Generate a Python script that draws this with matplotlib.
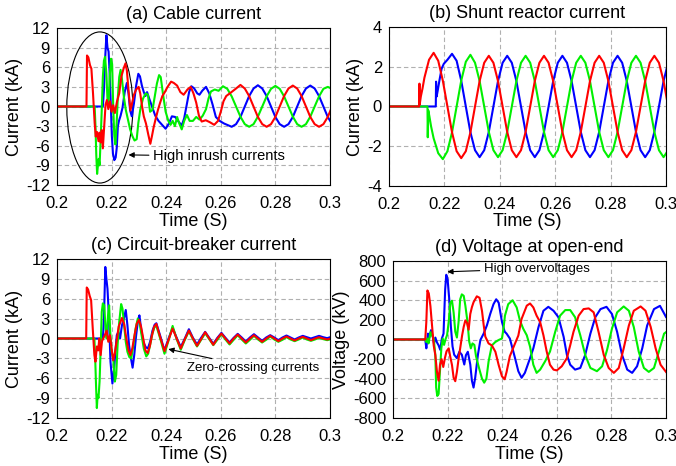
import numpy as np
import matplotlib.pyplot as plt
from matplotlib.patches import Ellipse

plt.rcParams['font.family'] = ['Liberation Sans', 'DejaVu Sans']
plt.rcParams['axes.unicode_minus'] = False

RED, GREEN, BLUE = '#ff0000', '#00f000', '#0000ff'

# ---------------- (a) cable current, kA ----------------
A_RED_PTS = [(0.200, 0), (0.2108, 0), (0.2110, 7.8), (0.2115, 7.5), (0.2121, 6.3), (0.2126, 5.8),
             (0.2132, 2.0), (0.2138, -2.5), (0.2142, -4.6), (0.2147, -3.9), (0.2152, -5.3), (0.2156, -4.0),
             (0.2160, -5.5), (0.2164, -3.6), (0.2168, -6.4), (0.2173, -3.0), (0.2178, 0.3), (0.2183, 1.0),
             (0.2188, -0.4), (0.2194, 0.8), (0.2200, -0.8), (0.2206, 0.2), (0.2212, -1.0), (0.2220, 0.8),
             (0.2228, 2.0), (0.2236, 4.6), (0.2244, 5.8), (0.2251, 6.6), (0.2256, 5.5), (0.2262, 2.5),
             (0.2269, -0.6), (0.2275, 0.5), (0.2282, 1.8), (0.2290, 2.6), (0.2299, 3.0), (0.2305, 2.0),
             (0.2311, 0.2), (0.2318, -1.5), (0.2326, -2.6), (0.2334, -4.2), (0.2342, -5.7), (0.2348, -4.5),
             (0.2354, -3.2), (0.2362, -1.8), (0.2370, -0.5), (0.2378, 0.6), (0.2386, 1.6), (0.2395, 2.2),
             (0.2405, 3.0), (0.2418, 3.8), (0.2428, 3.6), (0.2440, 3.2), (0.2452, 2.2), (0.2464, 1.8),
             (0.2478, 2.6), (0.2490, 3.0), (0.2500, 2.0), (0.2510, 0.6), (0.2520, -1.4), (0.2530, -2.3),
             (0.2545, -2.1), (0.2560, -2.4), (0.2576, -2.8), (0.2590, -2.2), (0.2600, -0.8), (0.2610, 0.8),
             (0.2620, 1.6), (0.2636, 2.1)]
A_RED_T0 = 0.2656
A_RED_VALS = [2.75, 3.3, 2.75, 1.6, 0, -1.6, -2.7, -3.1, -2.7, -1.6, 0, 1.6, 2.75, 3.2, 2.75, 1.6, 0,
              -1.6, -2.7, -3.1, -2.7, -1.6, 0]

A_BLUE_PTS = [(0.200, 0), (0.2168, 0), (0.2172, 2.5), (0.2176, 7.0), (0.2181, 10.9), (0.2185, 9.0),
              (0.2189, 8.4), (0.2193, 5.0), (0.2197, 0.5), (0.2201, -4.5), (0.2205, -7.2), (0.2210, -8.2),
              (0.2215, -7.8), (0.2219, -6.3), (0.2223, -3.0), (0.2227, -2.2), (0.2233, -1.4), (0.2240, -0.2),
              (0.2248, 2.2), (0.2256, 3.6), (0.2262, 2.0), (0.2268, -0.6), (0.2274, -1.5), (0.2282, 0.5),
              (0.2290, 3.2), (0.2298, 5.0), (0.2304, 4.6), (0.2311, 3.2), (0.2318, 2.2), (0.2324, 1.6),
              (0.2330, 2.2), (0.2338, 1.2), (0.2348, 0.0), (0.2360, -1.4), (0.2372, -2.2), (0.2385, -2.8),
              (0.2398, -3.4), (0.2410, -2.6), (0.2421, -1.5), (0.2433, -1.6), (0.2445, -2.3), (0.2457, -2.9),
              (0.2466, -1.8), (0.2475, 0.2), (0.2484, 2.2), (0.2492, 3.1), (0.2502, 2.8), (0.2514, 2.0),
              (0.2522, 1.8), (0.2532, 2.4), (0.2546, 3.0), (0.2558, 2.0), (0.2570, 0.3), (0.2582, -1.6),
              (0.2596, -2.2), (0.2612, -2.6)]
A_BLUE_T0 = 0.2640
A_BLUE_VALS = [-3.1, -2.7, -1.6, 0, 1.6, 2.75, 3.25, 2.75, 1.6, 0, -1.6, -2.7, -3.1, -2.7, -1.6, 0,
               1.6, 2.75, 3.2, 2.75, 1.6, 0, -1.6, -2.7]

A_GREEN_PTS = [(0.200, 0), (0.2138, 0), (0.2141, -3.0), (0.2144, -7.5), (0.2147, -10.3), (0.2150, -9.0),
               (0.2153, -8.0), (0.2156, -9.0), (0.2160, -5.0), (0.2164, -0.5), (0.2168, 4.5), (0.2172, 7.0),
               (0.2176, 7.6), (0.2181, 5.0), (0.2185, 1.0), (0.2189, 0.5), (0.2193, 4.5), (0.2198, 7.3),
               (0.2202, 6.5), (0.2206, 0.0), (0.2210, -4.5), (0.2214, -5.8), (0.2218, -3.0), (0.2223, 1.5),
               (0.2228, 4.5), (0.2233, 5.6), (0.2238, 4.2), (0.2245, 1.5), (0.2252, -0.5), (0.2260, -2.0),
               (0.2268, -3.5), (0.2276, -4.5), (0.2284, -5.2), (0.2292, -5.0), (0.2298, -2.5), (0.2305, -0.5),
               (0.2315, 1.2), (0.2325, 2.0), (0.2333, 1.8), (0.2341, -0.8), (0.2350, -0.5), (0.2358, 1.5),
               (0.2366, 3.5), (0.2374, 4.8), (0.2380, 4.5), (0.2388, 2.0), (0.2398, -0.8), (0.2408, -2.2),
               (0.2416, -2.8), (0.2424, -2.2), (0.2432, -3.0), (0.2440, -1.6), (0.2448, -2.6), (0.2457, -3.5),
               (0.2466, -2.2), (0.2476, -1.3), (0.2486, -2.2), (0.2498, -2.2), (0.2510, -1.6), (0.2522, -2.0),
               (0.2534, -1.4), (0.2546, -0.4), (0.2555, 1.2), (0.2564, 2.3), (0.2578, 2.6), (0.2592, 2.4)]
A_GREEN_T0 = 0.2608
A_GREEN_VALS = [3.1, 2.7, 1.55, 0, -1.55, -2.7, -3.1, -2.7, -1.55, 0, 1.55, 2.7, 3.15, 2.7, 1.55, 0,
                -1.55, -2.7, -3.1, -2.7, -1.55, 0, 1.55, 2.7, 3.0, 2.7]
A_DT = 0.0016

# ---------------- (b) shunt reactor current, kA ----------------
B_DT = 0.00166
B_RED_PTS = [(0.200, 0), (0.2109, 0), (0.2110, 1.15), (0.2111, 0.1), (0.2115, 0.5), (0.2121, 0.9)]
B_RED_T0 = 0.2128
B_RED_VALS = [1.45, 2.35, 2.7, 2.3, 1.3, 0, -1.3, -2.25, -2.6, -2.25, -1.3, 0,
              1.28, 2.2, 2.55, 2.2, 1.28, 0, -1.28, -2.2, -2.55, -2.2, -1.28, 0,
              1.28, 2.2, 2.55, 2.2, 1.28, 0, -1.28, -2.2, -2.55, -2.2, -1.28, 0,
              1.28, 2.2, 2.55, 2.2, 1.28, 0, -1.28, -2.2, -2.55, -2.2, -1.28, 0,
              1.28, 2.2, 2.55, 2.2, 1.28, 0]

B_BLUE_PTS = [(0.200, 0), (0.2169, 0), (0.2170, 1.25), (0.2172, 0.5), (0.2176, 0.8), (0.2182, 1.3),
              (0.2190, 1.9), (0.2198, 2.15)]
B_BLUE_T0 = 0.2211
B_BLUE_VALS = [2.35, 2.65, 2.3, 1.3, 0, -1.3, -2.2, -2.55, -2.2, -1.28, 0, 1.28, 2.2,
               2.55, 2.2, 1.28, 0, -1.28, -2.2, -2.55, -2.2, -1.28, 0, 1.28, 2.2,
               2.55, 2.2, 1.28, 0, -1.28, -2.2, -2.55, -2.2, -1.28, 0, 1.28, 2.2,
               2.55, 2.2, 1.28, 0, -1.28, -2.2, -2.55, -2.2, -1.28, 0, 1.28, 2.2]

B_GREEN_PTS = [(0.200, 0), (0.2139, 0), (0.2140, -1.55), (0.2142, -0.2), (0.2146, -0.5), (0.2152, -1.0)]
B_GREEN_T0 = 0.21612
B_GREEN_VALS = [-1.6, -2.35, -2.65, -2.25, -1.3, 0, 1.3, 2.25, 2.6, 2.2, 1.28, 0, -1.28, -2.2,
                -2.55, -2.2, -1.28, 0, 1.28, 2.2,
                2.55, 2.2, 1.28, 0, -1.28, -2.2, -2.55, -2.2, -1.28, 0, 1.28, 2.2,
                2.55, 2.2, 1.28, 0, -1.28, -2.2, -2.55, -2.2, -1.28, 0, 1.28, 2.2,
                2.55, 2.2, 1.28, 0, -1.28, -2.2, -2.55, -2.2]

# ---------------- (c) circuit-breaker current, kA ----------------
C_T0 = 0.2364
C_DT = 0.00149
C_RED_PTS = [(0.200, 0), (0.2107, 0), (0.2109, 7.7), (0.2114, 7.4), (0.2120, 6.4), (0.2125, 5.8),
             (0.2131, 1.5), (0.2137, -2.5), (0.2141, -3.5), (0.2146, -1.2), (0.2151, -1.8), (0.2155, 0),
             (0.2160, -2.5), (0.2165, -0.4), (0.2175, 0.5), (0.2182, 1.2), (0.2188, -0.5), (0.2194, 0.5),
             (0.2200, -1.5), (0.2206, -3.3), (0.2212, -2.2), (0.2218, -0.5), (0.2226, 1.8), (0.2238, 3.1),
             (0.2246, 2.2), (0.2254, 0), (0.2262, -1.8), (0.2269, -2.5), (0.2276, -1.5), (0.2284, 0.5),
             (0.2292, 2.2), (0.2300, 2.8), (0.2308, 1.8), (0.2316, 0), (0.2324, -1.8), (0.2332, -2.2),
             (0.2340, -1.2), (0.2348, 0.5), (0.2356, 1.8)]
C_RED_VALS = [2.2, 0.1, -1.9, -0.2, 1.5, 0, -1.5, -0.1, 1.2, 0, -1.1, -0.1, 0.95, 0, -0.95, 0,
              0.75, 0, -0.75, 0, 0.6, 0, -0.6, 0, 0.5, 0, -0.5, 0, 0.4, 0, -0.4, 0, 0.3, 0, -0.3, 0,
              0.25, 0, -0.25, 0, 0.2, 0, -0.15, 0]

C_BLUE_PTS = [(0.200, 0), (0.2168, 0), (0.2172, 3.0), (0.2177, 10.8), (0.2181, 9.0), (0.2185, 7.5),
              (0.2190, 3.5), (0.2196, -3.5), (0.2203, -6.8), (0.2209, -4.8), (0.2213, -2.5), (0.2219, 0.5),
              (0.2225, 1.0), (0.2231, 0.0), (0.2238, 2.0), (0.2245, 3.0), (0.2252, 4.3), (0.2258, 2.0),
              (0.2264, -1.0), (0.2271, -3.0), (0.2277, -4.4), (0.2283, -2.5), (0.2290, 0.5), (0.2297, 2.8),
              (0.2302, 3.5), (0.2308, 1.5), (0.2316, -0.5), (0.2325, -1.3), (0.2333, -1.5), (0.2341, -0.5),
              (0.2350, 1.2), (0.2358, 2.1)]
C_BLUE_VALS = [2.3, 0.3, -1.8, 0, 1.6, 0.1, -1.3, 0, 1.4, 0.1, -0.9, 0.1, 1.0, 0.1, -0.8, 0.1,
               0.85, 0.1, -0.6, 0.1, 0.7, 0.15, -0.45, 0.15, 0.65, 0.15, -0.35, 0.15, 0.5, 0.15, -0.25, 0.15,
               0.45, 0.15, -0.15, 0.15, 0.4, 0.2, 0.0, 0.2, 0.4, 0.2, 0.05, 0.25]

C_GREEN_PTS = [(0.200, 0), (0.2137, 0), (0.2140, -3.0), (0.2143, -7.0), (0.2146, -10.5), (0.2149, -8.5),
               (0.2152, -9.0), (0.2156, -6.5), (0.2160, -1.5), (0.2164, 4.0), (0.2168, 5.3), (0.2173, 5.0),
               (0.2178, 1.5), (0.2182, 0.0), (0.2187, 3.5), (0.2191, 5.0), (0.2195, 1.0), (0.2200, -2.0),
               (0.2206, -3.0), (0.2212, -6.5), (0.2217, -5.5), (0.2222, -1.0), (0.2228, 2.5), (0.2235, 5.2),
               (0.2240, 4.5), (0.2246, 2.0), (0.2252, -0.5), (0.2258, -2.0), (0.2265, -2.8), (0.2272, -3.0),
               (0.2280, -1.0), (0.2288, 1.5), (0.2296, 3.0), (0.2302, 2.5), (0.2310, 0.5), (0.2318, -1.5),
               (0.2327, -2.7), (0.2334, -2.3), (0.2342, -0.8), (0.2350, 0.8), (0.2357, 1.7)]
C_GREEN_VALS = [1.9, -0.1, -2.3, -0.3, 1.9, -0.1, -1.7, -0.2, 1.1, -0.1, -1.2, -0.2, 0.8, -0.1, -1.0, -0.2,
                0.65, -0.15, -0.9, -0.2, 0.5, -0.15, -0.75, -0.2, 0.4, -0.15, -0.6, -0.2, 0.3, -0.15, -0.5, -0.2,
                0.2, -0.15, -0.4, -0.15, 0.15, -0.15, -0.35, -0.15, 0.1, -0.1, -0.25, -0.1]

# ---------------- (d) voltage at open-end, kV ----------------
D_RED = [(0.200, 0), (0.2118, 0), (0.2122, 180), (0.2126, 500), (0.2131, 470), (0.2137, 340), (0.2143, 140),
         (0.2149, -60), (0.2155, -160), (0.2161, -330), (0.2167, -420), (0.2172, -260), (0.2178, -200),
         (0.2184, -280), (0.2190, -190), (0.2196, -120), (0.2204, -90), (0.2210, -180), (0.2216, -260),
         (0.2222, -390), (0.2228, -425), (0.2234, -330), (0.2240, -200), (0.2246, -90), (0.2253, 40),
         (0.2259, 130), (0.2265, 195), (0.2271, 170), (0.2277, 100), (0.2283, 260), (0.2289, 330),
         (0.2295, 380), (0.2307, 440), (0.2317, 425), (0.2326, 290), (0.2332, 150), (0.2338, 30),
         (0.2350, -40), (0.2362, -60), (0.2375, -125), (0.2387, -260), (0.2399, -375), (0.2409, -405),
         (0.2416, -330), (0.2428, -170), (0.2447, -40), (0.2459, 40), (0.2471, 210), (0.2490, 345),
         (0.2502, 367), (0.2514, 327), (0.2526, 243), (0.2539, 177), (0.2551, 43), (0.2563, -123),
         (0.2575, -257), (0.2588, -307), (0.2600, -315), (0.2618, -273), (0.2637, -190), (0.2649, -60),
         (0.2661, 77), (0.2680, 243), (0.2698, 310), (0.2717, 317), (0.2735, 277), (0.2753, 77),
         (0.2772, -157), (0.2790, -290), (0.2809, -340), (0.2827, -290), (0.2845, -90), (0.2864, 143),
         (0.2882, 293), (0.2907, 337), (0.2925, 293), (0.2944, 127), (0.2962, -90), (0.2980, -257),
         (0.3000, -330)]
D_BLUE = [(0.200, 0), (0.2118, 0), (0.2122, -90), (0.2128, 60), (0.2133, 20), (0.2139, 95), (0.2145, 40),
          (0.2150, -40), (0.2155, 20), (0.2161, -30), (0.2167, -60), (0.2173, -105), (0.2179, 10),
          (0.2185, 60), (0.2191, 510), (0.2195, 660), (0.2200, 610), (0.2206, 410), (0.2212, 130),
          (0.2218, -70), (0.2224, -155), (0.2234, -190), (0.2243, -125), (0.2252, -155), (0.2261, -255),
          (0.2267, -160), (0.2274, -125), (0.2283, -255), (0.2289, -420), (0.2295, -490), (0.2301, -390),
          (0.2311, -155), (0.2320, -5), (0.2332, 60), (0.2344, 145), (0.2356, 260), (0.2368, 360),
          (0.2378, 410), (0.2387, 375), (0.2399, 180), (0.2409, 80), (0.2416, 60), (0.2428, 10),
          (0.2447, -190), (0.2459, -323), (0.2471, -390), (0.2483, -340), (0.2502, -190), (0.2514, -90),
          (0.2533, 127), (0.2551, 293), (0.2569, 333), (0.2588, 293), (0.2606, 227), (0.2625, 27),
          (0.2637, -157), (0.2649, -257), (0.2667, -307), (0.2686, -290), (0.2704, -157), (0.2723, 60),
          (0.2741, 227), (0.2760, 310), (0.2782, 333), (0.2802, 260), (0.2821, 77), (0.2839, -157),
          (0.2858, -307), (0.2876, -340), (0.2894, -273), (0.2913, -90), (0.2931, 143), (0.2956, 310),
          (0.2978, 343), (0.3000, 230)]
D_GREEN = [(0.200, 0), (0.2118, 0), (0.2122, -25), (0.2126, 10), (0.2130, -40), (0.2137, 75), (0.2143, 40),
           (0.2149, 10), (0.2155, -160), (0.2158, -490), (0.2162, -575), (0.2167, -555), (0.2172, -320),
           (0.2177, -90), (0.2182, 10), (0.2187, -55), (0.2192, 0), (0.2198, 45), (0.2204, 180),
           (0.2210, 375), (0.2216, 395), (0.2222, 275), (0.2228, 80), (0.2234, 20), (0.2240, 175),
           (0.2246, 410), (0.2252, 460), (0.2259, 445), (0.2265, 345), (0.2273, 175), (0.2279, -20),
           (0.2285, -90), (0.2291, -40), (0.2298, -55), (0.2304, -170), (0.2316, -300), (0.2326, -400),
           (0.2334, -440), (0.2342, -400), (0.2350, -225), (0.2362, -60), (0.2375, -25), (0.2387, -5),
           (0.2399, 10), (0.2405, 120), (0.2410, 243), (0.2422, 360), (0.2438, 400), (0.2453, 327),
           (0.2465, 193), (0.2477, 110), (0.2490, 43), (0.2502, -73), (0.2514, -257), (0.2526, -340),
           (0.2539, -307), (0.2557, -223), (0.2575, -123), (0.2594, 77), (0.2612, 243), (0.2631, 300),
           (0.2649, 300), (0.2667, 227), (0.2686, 43), (0.2704, -157), (0.2723, -290), (0.2747, -323),
           (0.2766, -273), (0.2784, -107), (0.2802, 110), (0.2821, 277), (0.2845, 337), (0.2864, 293),
           (0.2882, 127), (0.2900, -123), (0.2919, -290), (0.2937, -330), (0.2956, -290), (0.2974, -123),
           (0.2993, 60), (0.3000, 75)]

X_TICKS = [0.2, 0.22, 0.24, 0.26, 0.28, 0.3]
X_LABELS = ['0.2', '0.22', '0.24', '0.26', '0.28', '0.3']


def build(pts, t0=None, dt=None, vals=()):
    t = [p[0] for p in pts] + [t0 + k * dt for k in range(len(vals))]
    v = [p[1] for p in pts] + list(vals)
    return np.array(t), np.array(v)


def style(ax, title, ylabel, yticks):
    ax.set_xlim(0.2, 0.3)
    ax.set_ylim(yticks[0], yticks[-1])
    ax.set_xticks(X_TICKS)
    ax.set_xticklabels(X_LABELS)
    ax.set_yticks(yticks)
    ax.grid(True, color='#b0b0b0', linestyle=(0, (4, 2.5)), linewidth=0.8)
    ax.set_axisbelow(True)
    ax.tick_params(length=0, labelsize=12)
    ax.tick_params(axis='x', pad=8)
    ax.tick_params(axis='y', pad=5)
    ax.set_title(title, fontsize=13, pad=6.5)
    ax.set_xlabel('Time (S)', fontsize=13, labelpad=1)
    ax.set_ylabel(ylabel, fontsize=13, labelpad=2)
    for s in ax.spines.values():
        s.set_linewidth(0.8)


fig = plt.figure(figsize=(6.76, 4.66), dpi=100)
ax_a = fig.add_axes([0.0843, 0.603, 0.4038, 0.3369])
ax_b = fig.add_axes([0.5754, 0.6009, 0.4098, 0.3412])
ax_c = fig.add_axes([0.0843, 0.103, 0.4038, 0.3412])
ax_d = fig.add_axes([0.5814, 0.103, 0.4038, 0.3369])

LW = 1.5

# (a)
ax_a.plot(*build(A_BLUE_PTS, A_BLUE_T0, A_DT, A_BLUE_VALS), color=BLUE, lw=LW)
ax_a.plot(*build(A_GREEN_PTS, A_GREEN_T0, A_DT, A_GREEN_VALS), color=GREEN, lw=LW)
ax_a.plot(*build(A_RED_PTS, A_RED_T0, A_DT, A_RED_VALS), color=RED, lw=LW)
style(ax_a, '(a) Cable current', 'Current (kA)', [-12, -9, -6, -3, 0, 3, 6, 9, 12])
ax_a.add_patch(Ellipse((0.2157, -0.15), 0.0242, 23.1, fill=False, ec='black', lw=0.8))
ax_a.annotate('High inrush currents', xy=(0.2262, -7.4), xytext=(0.2352, -7.6),
              fontsize=10.5, ha='left', va='center',
              arrowprops=dict(arrowstyle='-|>', color='black', lw=0.8, mutation_scale=8, shrinkA=1, shrinkB=0))

# (b)
ax_b.plot(*build(B_BLUE_PTS, B_BLUE_T0, B_DT, B_BLUE_VALS), color=BLUE, lw=LW)
ax_b.plot(*build(B_GREEN_PTS, B_GREEN_T0, B_DT, B_GREEN_VALS), color=GREEN, lw=LW)
ax_b.plot(*build(B_RED_PTS, B_RED_T0, B_DT, B_RED_VALS), color=RED, lw=LW)
style(ax_b, '(b) Shunt reactor current', 'Current (kA)', [-4, -2, 0, 2, 4])

# (c)
ax_c.plot(*build(C_BLUE_PTS, C_T0, C_DT, C_BLUE_VALS), color=BLUE, lw=LW)
ax_c.plot(*build(C_GREEN_PTS, C_T0, C_DT, C_GREEN_VALS), color=GREEN, lw=LW)
ax_c.plot(*build(C_RED_PTS, C_T0, C_DT, C_RED_VALS), color=RED, lw=LW)
style(ax_c, '(c) Circuit-breaker current', 'Current (kA)', [-12, -9, -6, -3, 0, 3, 6, 9, 12])
ax_c.annotate('Zero-crossing currents', xy=(0.2408, -1.6), xytext=(0.2478, -4.4),
              fontsize=9.5, ha='left', va='center',
              arrowprops=dict(arrowstyle='-|>', color='black', lw=0.8, mutation_scale=8, shrinkA=1, shrinkB=0))

# (d)
ax_d.plot(*build(D_BLUE), color=BLUE, lw=LW)
ax_d.plot(*build(D_GREEN), color=GREEN, lw=LW)
ax_d.plot(*build(D_RED), color=RED, lw=LW)
style(ax_d, '(d) Voltage at open-end', 'Voltage (kV)', [-800, -600, -400, -200, 0, 200, 400, 600, 800])
ax_d.annotate('High overvoltages', xy=(0.2199, 690), xytext=(0.2333, 723),
              fontsize=9.5, ha='left', va='center',
              arrowprops=dict(arrowstyle='-|>', color='black', lw=0.8, mutation_scale=8, shrinkA=1, shrinkB=0))

fig.savefig('out.png', dpi=100)
